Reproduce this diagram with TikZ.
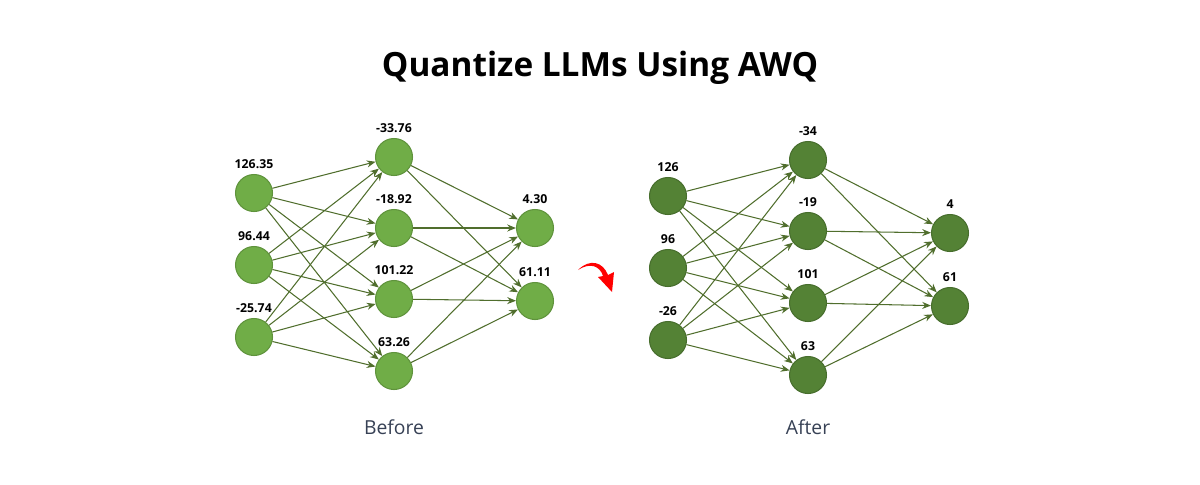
\documentclass[tikz,border=0pt]{standalone}
\usepackage{fontspec}
\setmainfont{Open Sans}
\usetikzlibrary{arrows.meta}
\definecolor{lightgreen}{RGB}{112,173,71}
\definecolor{darkgreen}{RGB}{84,130,53}
\definecolor{edgegreen}{RGB}{80,110,45}
\definecolor{slate}{RGB}{55,65,85}
\tikzset{
  neuron/.style={circle,minimum size=0.74cm,inner sep=0pt,draw=#1!85!black,fill=#1,line width=0.6pt},
  val/.style={font=\fontsize{7}{8}\selectfont\bfseries,above=0.36cm},
  link/.style={-{Stealth[length=5pt,width=4pt]},edgegreen,line width=0.6pt},
  caption/.style={font=\fontsize{11}{13}\selectfont,text=slate}
}
\begin{document}
\begin{tikzpicture}[x=0.02cm,y=-0.02cm]
  \useasboundingbox (0,0) rectangle (1200,484);
  % Titolo
  \node[font=\fontsize{19}{22}\selectfont\bfseries] (title) at (600,68) {Quantize LLMs Using AWQ};

  % Rete prima
  \foreach \y/\v [count=\i] in {193/126.35,265/96.44,337/-25.74}
    \node[neuron=lightgreen] (bi\i) at (254,\y) {} node[val] at (bi\i) {\v};
  \foreach \y/\v [count=\i] in {157/-33.76,228/-18.92,299/101.22,371/63.26}
    \node[neuron=lightgreen] (bh\i) at (394,\y) {} node[val] at (bh\i) {\v};
  \foreach \y/\v [count=\i] in {228/4.30,301/61.11}
    \node[neuron=lightgreen] (bo\i) at (535,\y) {} node[val] at (bo\i) {\v};

  % Rete dopo
  \foreach \y/\v [count=\i] in {196/126,268/96,340/-26}
    \node[neuron=darkgreen] (ai\i) at (668,\y) {} node[val] at (ai\i) {\v};
  \foreach \y/\v [count=\i] in {160/-34,231/-19,303/101,375/63}
    \node[neuron=darkgreen] (ah\i) at (808,\y) {} node[val] at (ah\i) {\v};
  \foreach \y/\v [count=\i] in {233/4,306/61}
    \node[neuron=darkgreen] (ao\i) at (950,\y) {} node[val] at (ao\i) {\v};

  % Collegamenti
  \foreach \n in {b,a}{
    \foreach \i in {1,2,3}
      \foreach \j in {1,...,4}
        \draw[link] (\n i\i) -- (\n h\j);
    \foreach \j in {1,...,4}
      \foreach \k in {1,2}
        \draw[link] (\n h\j) -- (\n o\k);
  }

  % Freccia rossa
  \coordinate (arrs) at (578,270);
  \coordinate (arre) at (612,290);
  \fill[red] (arrs) .. controls (590,262) and (600,266) .. (603,276)
    -- (598,277) -- (612,292) -- (614,272) -- (608,275)
    .. controls (603,262) and (590,258) .. (arrs) -- cycle;

  % Etichette
  \node[caption] (before) at (394,427) {Before};
  \node[caption] (after) at (808,427) {After};
\end{tikzpicture}
\end{document}
